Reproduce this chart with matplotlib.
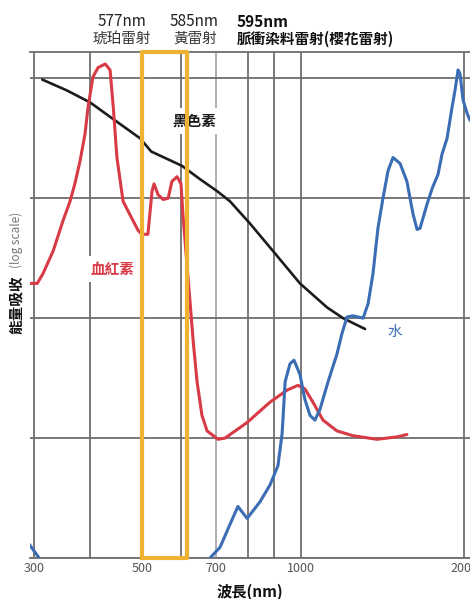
import matplotlib
matplotlib.use("Agg")
import matplotlib.pyplot as plt
import numpy as np

plt.rcParams['font.family'] = ['Noto Sans CJK TC', 'DejaVu Sans']

# 波長 (nm) 與吸收 (log10, 任意單位)
hemo_nm = [295, 305, 314, 331, 348, 361, 370, 380, 390, 396,
           405, 414, 427, 436, 442, 449, 461, 479, 492, 500,
           514, 524, 529, 539, 552, 565, 575, 589, 600, 605,
           613, 624, 633, 644, 658, 673, 706, 727, 797, 884,
           947, 988, 1017, 1052, 1098, 1165, 1247, 1381, 1504, 1569]
hemo_log = [2.29, 2.29, 2.37, 2.56, 2.81, 2.975, 3.12, 3.31, 3.54, 3.76,
            4.01, 4.09, 4.12, 4.07, 3.76, 3.34, 2.975, 2.83, 2.73, 2.70,
            2.70, 3.06, 3.12, 3.03, 2.99, 3.0, 3.14, 3.18, 3.12, 2.87,
            2.56, 2.15, 1.81, 1.47, 1.19, 1.06, 0.99, 1.0, 1.13, 1.30,
            1.40, 1.44, 1.41, 1.30, 1.15, 1.06, 1.02, 0.99, 1.01, 1.03]

mel_nm = [313, 355, 400, 442, 496, 522, 603, 652, 703, 742, 807, 896, 996, 1117, 1196, 1313]
mel_log = [3.99, 3.90, 3.80, 3.66, 3.50, 3.39, 3.27, 3.16, 3.06, 2.975, 2.79, 2.56, 2.29, 2.09, 2.0, 1.91]

water_uv_nm = [292, 308, 311]
water_uv_log = [0.12, 0.0, -0.04]
water_nm = [676, 682, 712, 742, 767, 797, 845, 884, 914, 929,
            940, 958, 973, 996, 1017, 1039, 1061, 1084, 1122, 1165,
            1190, 1216, 1247, 1302, 1330, 1358, 1387, 1417, 1448, 1479,
            1524, 1569, 1610, 1638, 1659, 1709, 1746, 1791, 1822, 1861,
            1901, 1925, 1950, 1966, 1992, 2026, 2052]
water_log = [-0.03, 0.0, 0.09, 0.28, 0.43, 0.33, 0.47, 0.61, 0.77, 1.04,
             1.47, 1.62, 1.65, 1.53, 1.32, 1.19, 1.15, 1.24, 1.47, 1.70,
             1.87, 2.01, 2.02, 2.0, 2.12, 2.37, 2.75, 3.0, 3.23, 3.34,
             3.29, 3.14, 2.87, 2.74, 2.75, 2.95, 3.08, 3.20, 3.37, 3.50,
             3.76, 3.90, 4.07, 4.04, 3.82, 3.71, 3.65]

laser_band = (500, 616)
grid_nm = [300, 400, 500, 600, 700, 800, 900, 1000, 2000]
label_nm = [300, 500, 700, 1000, 2000]

# 原圖的波長軸不是嚴格的對數軸, 用分段對數來對齊格線
knot_pos = np.array([34, 90, 142, 181, 216, 248, 274, 301, 464], float)
knot_log = np.log10(grid_nm)
s_lo = (knot_pos[1] - knot_pos[0]) / (knot_log[1] - knot_log[0])
s_hi = (knot_pos[-1] - knot_pos[-2]) / (knot_log[-1] - knot_log[-2])


def fwd(w):
    lw = np.log10(np.maximum(np.asarray(w, float), 1e-6))
    out = np.interp(lw, knot_log, knot_pos)
    out = np.where(lw < knot_log[0], knot_pos[0] + (lw - knot_log[0]) * s_lo, out)
    out = np.where(lw > knot_log[-1], knot_pos[-1] + (lw - knot_log[-1]) * s_hi, out)
    return out


def inv(p):
    p = np.asarray(p, float)
    lw = np.interp(p, knot_pos, knot_log)
    lw = np.where(p < knot_pos[0], knot_log[0] + (p - knot_pos[0]) / s_lo, lw)
    lw = np.where(p > knot_pos[-1], knot_log[-1] + (p - knot_pos[-1]) / s_hi, lw)
    return 10 ** lw


W, H = 470, 599
fig = plt.figure(figsize=(W / 100, H / 100), dpi=100)
ax = fig.add_axes([30 / W, (H - 558) / H, 440 / W, 506 / H])
ax.set_xscale('function', functions=(fwd, inv))
ax.set_xlim(float(inv(30)), float(inv(470)))
ax.set_yscale('log')
ytop = 4.22
ax.set_ylim(1, 10 ** ytop)

gridc = '#6e6e6e'
for g in grid_nm:
    ax.axvline(g, color='#a8a8a8' if g == 700 else gridc, lw=1.3, zorder=1)
for k in range(5):
    ax.axhline(10 ** k, color=gridc, lw=1.3, zorder=1)

for s in ['left', 'right']:
    ax.spines[s].set_visible(False)
for s in ['top', 'bottom']:
    ax.spines[s].set_color(gridc)
    ax.spines[s].set_linewidth(1.3)

ax.set_xticks(label_nm)
ax.set_xticklabels([str(v) for v in label_nm])
ax.xaxis.set_minor_locator(matplotlib.ticker.NullLocator())
ax.yaxis.set_minor_locator(matplotlib.ticker.NullLocator())
ax.set_yticks([])
ax.tick_params(axis='x', length=0, pad=3, labelsize=9, labelcolor='#555555')

red = '#d83a46'
blue = '#3b6db4'
kw = dict(solid_capstyle='round', solid_joinstyle='round', zorder=4)
ax.plot(mel_nm, 10 ** np.array(mel_log), color='#1c1c1c', lw=1.9, **kw)
ax.plot(hemo_nm, 10 ** np.array(hemo_log), color=red, lw=2.2, **kw)
ax.plot(water_uv_nm, 10 ** np.array(water_uv_log), color=blue, lw=2.2, **kw)
ax.plot(water_nm, 10 ** np.array(water_log), color=blue, lw=2.2, **kw)

# 雷射波段框
b0, b1 = laser_band
ax.plot([b0, b0, b1, b1, b0], [1, 10 ** ytop, 10 ** ytop, 1, 1], color='#f0b331',
        lw=3.0, solid_joinstyle='round', clip_on=False, zorder=5)

box = dict(boxstyle='square,pad=0.35', fc='white', ec='none')
ax.text(0.3727, 0.8636, '黑色素', transform=ax.transAxes, ha='center', va='center',
        fontsize=10.5, fontweight='bold', color='#1a1a1a', bbox=box, zorder=3)
ax.text(0.1864, 0.5711, '血紅素', transform=ax.transAxes, ha='center', va='center',
        fontsize=10.5, fontweight='bold', color=red, bbox=box, zorder=6)
ax.text(0.8295, 0.4466, '水', transform=ax.transAxes, ha='center', va='center',
        fontsize=10.5, color=blue, zorder=6)


def ft(px, py, s, **k):
    fig.text(px / W, 1 - py / H, s, va='center', **k)


ft(122, 22, '577nm', ha='center', fontsize=11, color='#222222')
ft(122, 39, '琥珀雷射', ha='center', fontsize=10.5, color='#333333')
ft(194, 22, '585nm', ha='center', fontsize=11, color='#222222')
ft(195, 39, '黃雷射', ha='center', fontsize=10.5, color='#333333')
ft(237, 22, '595nm', ha='left', fontsize=11, fontweight='bold', color='#111111')
ft(237, 39, '脈衝染料雷射(櫻花雷射)', ha='left', fontsize=10.5, fontweight='bold', color='#111111')

ft(250, 592, '波長(nm)', ha='center', fontsize=11, fontweight='bold', color='#111111')
ft(16, 305, '能量吸收', ha='center', rotation=90, fontsize=10.5, fontweight='bold', color='#111111')
ft(16, 240, '(log scale)', ha='center', rotation=90, fontsize=8.5, color='#777777')

fig.savefig('out.png', dpi=100)
